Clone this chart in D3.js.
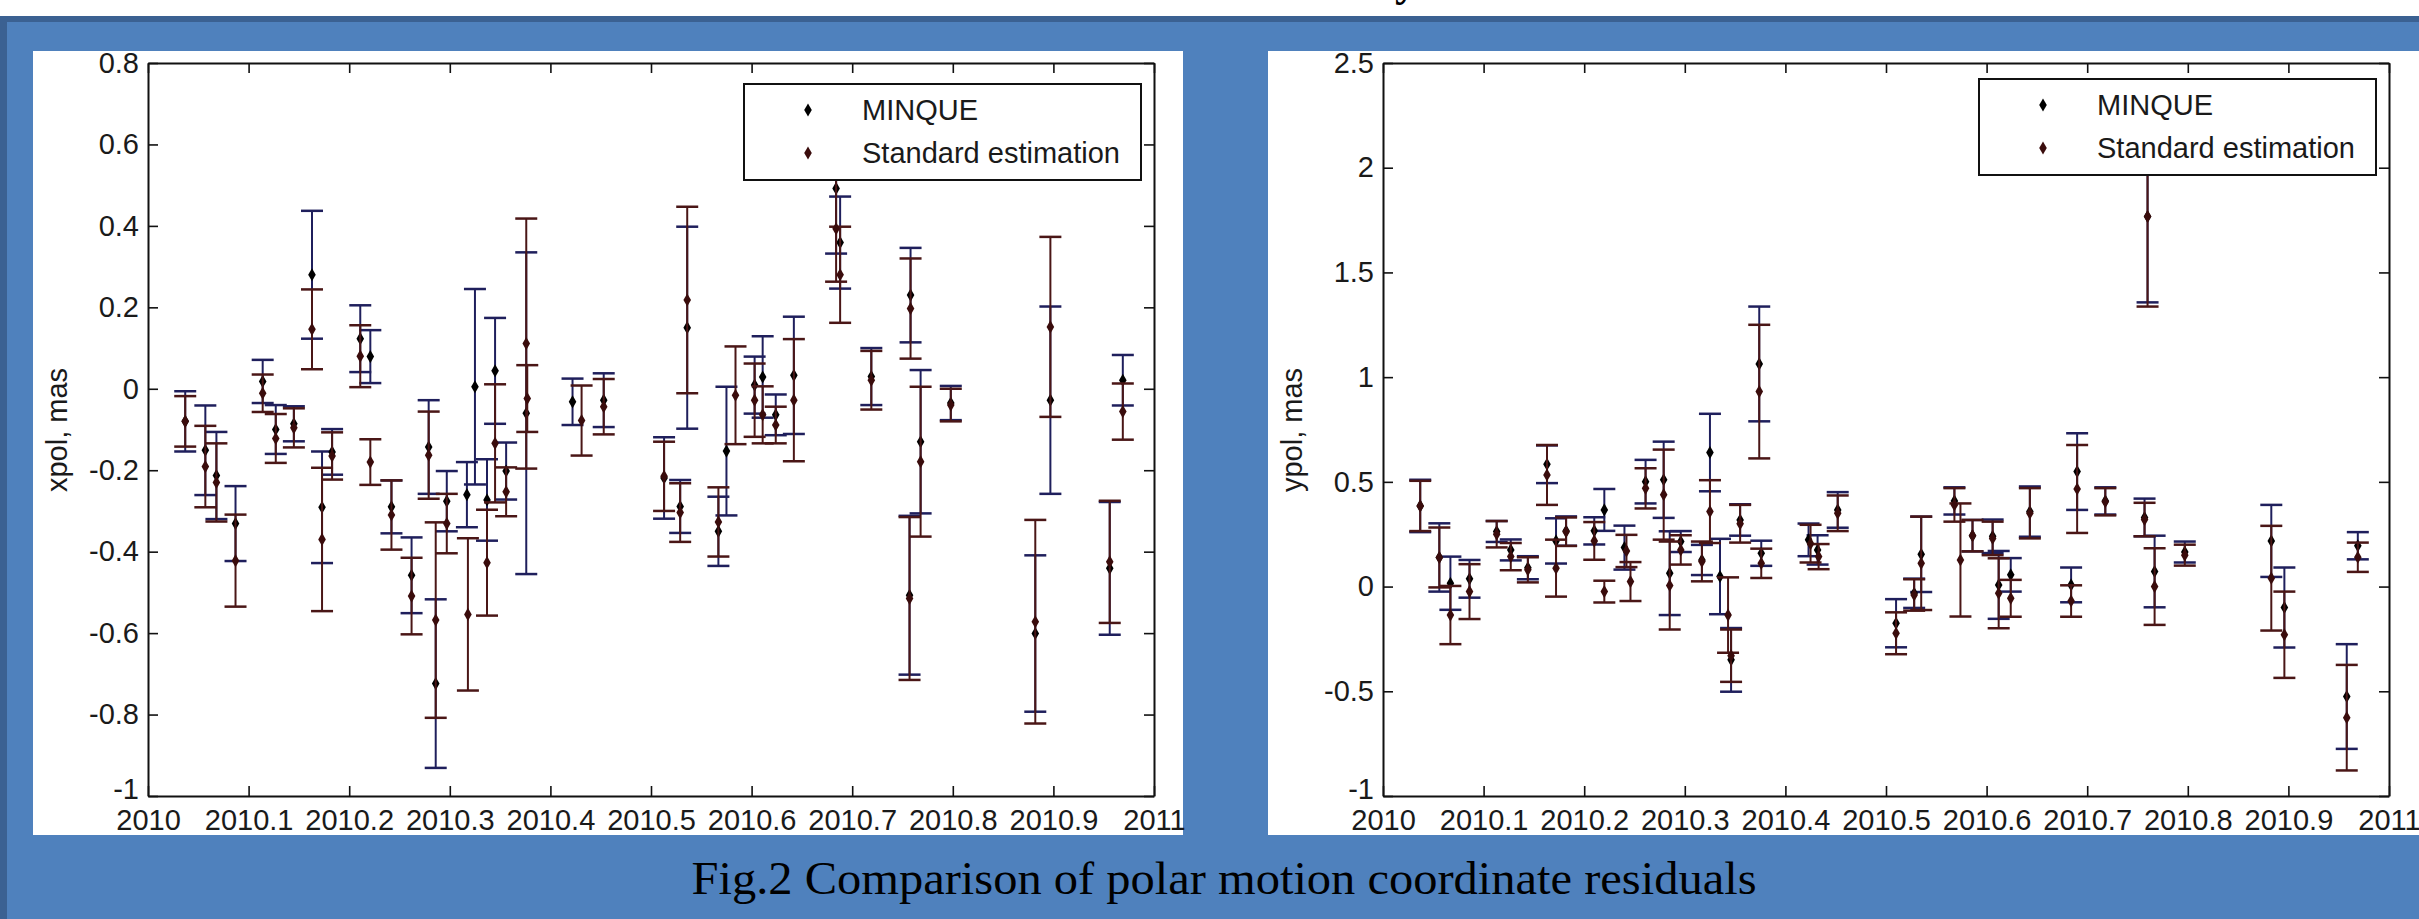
<!DOCTYPE html>
<html>
<head>
<meta charset="utf-8">
<script src="https://cdn.jsdelivr.net/npm/d3@7"></script>
<style>
  body { margin: 0; background: #4f81bd; }
  svg { display: block; }
</style>
</head>
<body>
<svg width="2419" height="919"></svg>
<script>
// tick labels
const yearTicks = [2010, 2010.1, 2010.2, 2010.3, 2010.4, 2010.5, 2010.6, 2010.7, 2010.8, 2010.9, 2011];
const xpolTicks = [-1, -0.8, -0.6, -0.4, -0.2, 0, 0.2, 0.4, 0.6, 0.8];
const ypolTicks = [-1, -0.5, 0, 0.5, 1, 1.5, 2, 2.5];
const seriesNames = ["MINQUE", "Standard estimation"];
const caption = "Fig.2 Comparison of  polar motion coordinate residuals";

// [epoch, residual, error]
const xpolMinque = [
  [2010.037, -0.080, 0.074], [2010.057, -0.151, 0.110], [2010.068, -0.213, 0.107], [2010.087, -0.331, 0.092],
  [2010.114, 0.018, 0.053], [2010.127, -0.100, 0.060], [2010.145, -0.086, 0.043], [2010.163, 0.280, 0.157],
  [2010.173, -0.291, 0.137], [2010.183, -0.155, 0.056], [2010.211, 0.123, 0.082], [2010.221, 0.079, 0.065],
  [2010.242, -0.290, 0.065], [2010.262, -0.458, 0.093], [2010.279, -0.143, 0.115], [2010.286, -0.724, 0.207],
  [2010.297, -0.276, 0.074], [2010.317, -0.260, 0.080], [2010.325, 0.005, 0.240], [2010.337, -0.273, 0.100],
  [2010.345, 0.044, 0.130], [2010.356, -0.202, 0.070], [2010.376, -0.060, 0.395], [2010.422, -0.032, 0.057],
  [2010.453, -0.028, 0.066], [2010.513, -0.219, 0.100], [2010.529, -0.289, 0.065], [2010.536, 0.150, 0.248],
  [2010.567, -0.350, 0.085], [2010.575, -0.153, 0.158], [2010.603, 0.009, 0.070], [2010.611, 0.029, 0.100],
  [2010.624, -0.064, 0.050], [2010.642, 0.033, 0.144], [2010.684, 0.492, 0.160], [2010.688, 0.359, 0.113],
  [2010.719, 0.030, 0.070], [2010.757, -0.507, 0.195], [2010.758, 0.230, 0.116], [2010.768, -0.130, 0.176],
  [2010.798, -0.035, 0.042], [2010.882, -0.601, 0.192], [2010.897, -0.028, 0.230], [2010.956, -0.441, 0.163],
  [2010.969, 0.021, 0.062]
];
const xpolStandard = [
  [2010.037, -0.080, 0.062], [2010.057, -0.191, 0.100], [2010.068, -0.230, 0.096], [2010.087, -0.422, 0.113],
  [2010.114, -0.011, 0.046], [2010.127, -0.122, 0.060], [2010.145, -0.096, 0.048], [2010.163, 0.146, 0.098],
  [2010.173, -0.370, 0.176], [2010.183, -0.165, 0.058], [2010.211, 0.080, 0.076], [2010.221, -0.180, 0.056],
  [2010.242, -0.310, 0.085], [2010.262, -0.509, 0.094], [2010.279, -0.163, 0.107], [2010.286, -0.568, 0.240],
  [2010.297, -0.331, 0.073], [2010.318, -0.554, 0.187], [2010.337, -0.427, 0.130], [2010.345, -0.134, 0.145],
  [2010.356, -0.253, 0.060], [2010.376, 0.111, 0.307], [2010.377, -0.024, 0.082], [2010.431, -0.078, 0.086],
  [2010.453, -0.044, 0.068], [2010.513, -0.215, 0.085], [2010.529, -0.304, 0.072], [2010.536, 0.218, 0.229],
  [2010.567, -0.327, 0.085], [2010.584, -0.016, 0.120], [2010.603, -0.028, 0.090], [2010.611, -0.064, 0.070],
  [2010.624, -0.089, 0.045], [2010.642, -0.028, 0.150], [2010.684, 0.393, 0.130], [2010.688, 0.280, 0.118],
  [2010.719, 0.021, 0.072], [2010.757, -0.515, 0.200], [2010.758, 0.197, 0.123], [2010.768, -0.179, 0.184],
  [2010.798, -0.040, 0.040], [2010.882, -0.572, 0.250], [2010.897, 0.152, 0.221], [2010.956, -0.425, 0.150],
  [2010.969, -0.056, 0.069]
];
const ypolMinque = [
  [2010.037, 0.385, 0.125], [2010.056, 0.139, 0.163], [2010.067, 0.016, 0.127], [2010.086, 0.037, 0.090],
  [2010.113, 0.263, 0.050], [2010.127, 0.175, 0.050], [2010.144, 0.090, 0.055], [2010.163, 0.584, 0.090],
  [2010.172, 0.218, 0.108], [2010.182, 0.265, 0.070], [2010.210, 0.266, 0.065], [2010.220, 0.366, 0.100],
  [2010.240, 0.186, 0.105], [2010.261, 0.501, 0.104], [2010.279, 0.510, 0.182], [2010.285, 0.064, 0.200],
  [2010.296, 0.215, 0.050], [2010.317, 0.127, 0.072], [2010.325, 0.640, 0.185], [2010.335, 0.048, 0.180],
  [2010.346, -0.350, 0.152], [2010.355, 0.318, 0.075], [2010.374, 1.063, 0.274], [2010.376, 0.159, 0.060],
  [2010.423, 0.223, 0.078], [2010.432, 0.175, 0.070], [2010.452, 0.366, 0.085], [2010.510, -0.175, 0.115],
  [2010.528, -0.032, 0.070], [2010.535, 0.154, 0.180], [2010.568, 0.409, 0.065], [2010.586, 0.243, 0.075],
  [2010.606, 0.240, 0.080], [2010.612, 0.008, 0.162], [2010.624, 0.056, 0.080], [2010.643, 0.358, 0.120],
  [2010.684, 0.008, 0.083], [2010.690, 0.549, 0.183], [2010.718, 0.409, 0.065], [2010.757, 0.330, 0.090],
  [2010.760, 1.767, 0.410], [2010.767, 0.072, 0.171], [2010.797, 0.165, 0.050], [2010.883, 0.218, 0.172],
  [2010.896, -0.100, 0.191], [2010.958, -0.525, 0.250], [2010.969, 0.195, 0.065]
];
const ypolStandard = [
  [2010.037, 0.385, 0.120], [2010.056, 0.139, 0.143], [2010.067, -0.136, 0.139], [2010.086, -0.024, 0.131],
  [2010.113, 0.250, 0.063], [2010.127, 0.143, 0.065], [2010.144, 0.080, 0.060], [2010.163, 0.533, 0.143],
  [2010.172, 0.088, 0.136], [2010.182, 0.262, 0.068], [2010.210, 0.218, 0.090], [2010.220, -0.024, 0.052],
  [2010.242, 0.170, 0.077], [2010.246, 0.024, 0.093], [2010.261, 0.469, 0.096], [2010.279, 0.439, 0.215],
  [2010.285, 0.005, 0.210], [2010.296, 0.175, 0.070], [2010.317, 0.120, 0.095], [2010.325, 0.358, 0.150],
  [2010.343, -0.136, 0.180], [2010.346, -0.330, 0.125], [2010.355, 0.300, 0.090], [2010.374, 0.931, 0.319],
  [2010.376, 0.111, 0.070], [2010.425, 0.205, 0.090], [2010.433, 0.143, 0.060], [2010.452, 0.350, 0.085],
  [2010.510, -0.223, 0.100], [2010.528, -0.040, 0.075], [2010.535, 0.111, 0.223], [2010.568, 0.390, 0.080],
  [2010.574, 0.127, 0.270], [2010.586, 0.243, 0.075], [2010.606, 0.230, 0.080], [2010.612, -0.032, 0.167],
  [2010.624, -0.056, 0.088], [2010.643, 0.350, 0.120], [2010.684, -0.069, 0.075], [2010.690, 0.466, 0.210],
  [2010.718, 0.405, 0.065], [2010.757, 0.320, 0.080], [2010.760, 1.767, 0.430], [2010.767, 0.000, 0.183],
  [2010.797, 0.150, 0.050], [2010.883, 0.040, 0.250], [2010.896, -0.230, 0.206], [2010.958, -0.626, 0.252],
  [2010.969, 0.140, 0.070]
];

const barColor = ["#1f1f5c", "#4a1616"];
const markColor = ["#000000", "#3a0c0c"];
const font = "'Liberation Sans', Arial, sans-serif";

let svg = d3.select("svg");

// slide background
svg.append("rect").attr("x", 0).attr("y", 0).attr("width", 2419).attr("height", 16).style("fill", "white");
svg.append("rect").attr("x", 0).attr("y", 16).attr("width", 2419).attr("height", 6).style("fill", "#3b6192");
svg.append("rect").attr("x", 0).attr("y", 22).attr("width", 7).attr("height", 897).style("fill", "#3b6192");
// bit of the cut-off heading above
svg.append("text").attr("x", 1395).attr("y", -4).text("y")
   .style("font-family", "'Liberation Serif', serif").style("font-weight", "bold").style("font-size", "44px");

function drawPanel(p) {
    let g = svg.append("g");
    g.append("rect").attr("x", p.boxX).attr("y", 51).attr("width", p.boxW).attr("height", 784).style("fill", "white");

    let scX = d3.scaleLinear().domain([2010, 2011]).range([p.left, p.left + 1006]);
    let scY = d3.scaleLinear().domain(p.domainY).range([796, 63]);

    g.append("clipPath").attr("id", p.id + "clip")
     .append("rect").attr("x", p.left).attr("y", 63).attr("width", 1006).attr("height", 733);

    // error bars, series after series like errorbar() does
    p.series.forEach((data, i) => {
        let gs = g.append("g").attr("clip-path", `url(#${p.id}clip)`);
        gs.selectAll(".bar").data(data).enter().append("line")
          .attr("x1", d => scX(d[0])).attr("x2", d => scX(d[0]))
          .attr("y1", d => scY(d[1] - d[2])).attr("y2", d => scY(d[1] + d[2]))
          .style("stroke", barColor[i]).style("stroke-width", 2);
        [-1, 1].forEach(sign => {
            gs.selectAll(".cap" + sign).data(data).enter().append("line")
              .attr("x1", d => scX(d[0]) - 11).attr("x2", d => scX(d[0]) + 11)
              .attr("y1", d => scY(d[1] + sign * d[2])).attr("y2", d => scY(d[1] + sign * d[2]))
              .style("stroke", barColor[i]).style("stroke-width", 2.5);
        });
        gs.selectAll(".pt").data(data).enter().append("path")
          .attr("d", d3.symbol(d3.symbolDiamond, 50))
          .attr("transform", d => `translate(${scX(d[0])},${scY(d[1])})`)
          .style("fill", markColor[i]);
    });

    // box with inward ticks
    let axB = g.append("g").attr("transform", "translate(0,796)")
        .call(d3.axisBottom(scX).tickValues(yearTicks).tickSize(-10).tickSizeOuter(0).tickPadding(13).tickFormat(d => String(d)));
    let axL = g.append("g").attr("transform", `translate(${p.left},0)`)
        .call(d3.axisLeft(scY).tickValues(p.ticks).tickSize(-10).tickSizeOuter(0).tickPadding(9).tickFormat(d => String(d)));
    let axT = g.append("g").attr("transform", "translate(0,63)")
        .call(d3.axisTop(scX).tickValues(yearTicks).tickSize(-10).tickSizeOuter(0).tickFormat(""));
    let axR = g.append("g").attr("transform", `translate(${p.left + 1006},0)`)
        .call(d3.axisRight(scY).tickValues(p.ticks).tickSize(-10).tickSizeOuter(0).tickFormat(""));
    [axB, axL, axT, axR].forEach(ax => {
        ax.attr("font-family", font).attr("font-size", 29);
        ax.select(".domain").style("stroke", "#111").style("stroke-width", 2);
        ax.selectAll(".tick line").style("stroke", "#111").style("stroke-width", 1.6);
        ax.selectAll("text").style("fill", "#1a1a1a");
    });
    // lowest y label sits a little higher, just above the first year
    axL.selectAll(".tick text").filter(d => d === p.domainY[0]).attr("dy", "0.1em");

    g.append("text")
     .attr("transform", `translate(${p.labelX},430) rotate(-90)`)
     .attr("text-anchor", "middle")
     .style("font-family", font).style("font-size", "29px").style("fill", "#1a1a1a")
     .text(p.label);

    // legend on top of the data
    let lx = p.left + 1006 - 13 - 397, ly = 63 + p.legendTop;
    g.append("rect").attr("x", lx).attr("y", ly).attr("width", 397).attr("height", 96)
     .style("fill", "white").style("stroke", "#111").style("stroke-width", 2);
    seriesNames.forEach((name, i) => {
        let cy = ly + 26 + i * 43;
        g.append("path").attr("d", d3.symbol(d3.symbolDiamond, 50))
         .attr("transform", `translate(${lx + 64},${cy})`).style("fill", markColor[i]);
        g.append("text").attr("x", lx + 118).attr("y", cy + 10).text(name)
         .style("font-family", font).style("font-size", "29px").style("fill", "#1a1a1a");
    });
}

drawPanel({ id: "xp", boxX: 33, boxW: 1150, left: 148, domainY: [-1, 0.8], ticks: xpolTicks,
            label: "xpol, mas", labelX: 67, legendTop: 21, series: [xpolMinque, xpolStandard] });
drawPanel({ id: "yp", boxX: 1268, boxW: 1151, left: 1383, domainY: [-1, 2.5], ticks: ypolTicks,
            label: "ypol, mas", labelX: 1302, legendTop: 16, series: [ypolMinque, ypolStandard] });

svg.append("text").attr("x", 1224).attr("y", 894).attr("text-anchor", "middle")
   .attr("textLength", 1065).attr("lengthAdjust", "spacingAndGlyphs")
   .style("font-family", "'Liberation Serif', 'Times New Roman', serif").style("font-size", "46px").style("fill", "#000")
   .text(caption);
</script>
</body>
</html>
